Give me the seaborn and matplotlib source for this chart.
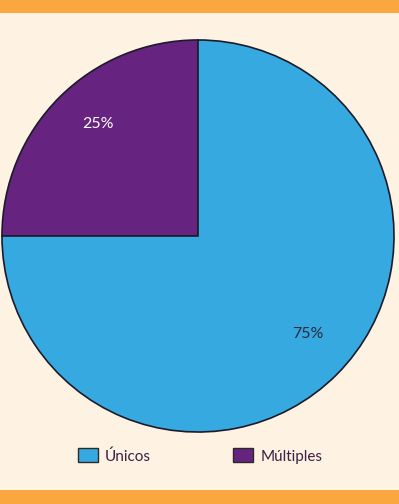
import matplotlib
matplotlib.use("Agg")
import matplotlib.pyplot as plt
from matplotlib.patches import Patch, Rectangle
import seaborn as sns

# data
labels = ["Múltiples", "Únicos"]
values = [25, 75]
legend_order = ["Únicos", "Múltiples"]

sns.set_theme(style="white")
plt.rcParams["font.family"] = ["Lato", "DejaVu Sans"]

colors = {"Únicos": "#36A9E1", "Múltiples": "#66237F"}
bg = "#FEF2E3"
orange = "#F9A73E"

fig = plt.figure(figsize=(3.99, 5.04), dpi=100, facecolor=bg)

# orange bands top and bottom
fig.patches.append(Rectangle((0, 1 - 13 / 504), 1, 13 / 504, transform=fig.transFigure,
                             facecolor=orange, edgecolor="none", zorder=0))
fig.patches.append(Rectangle((0, 0), 1, 14 / 504, transform=fig.transFigure,
                             facecolor=orange, edgecolor="none", zorder=0))

ax = fig.add_axes([1 / 399, 71 / 504, 394 / 399, 394 / 504])
ax.set_facecolor(bg)
wedges, texts, autotexts = ax.pie(
    values,
    colors=[colors[l] for l in labels],
    startangle=90,
    counterclock=True,
    autopct="%d%%",
    pctdistance=0.76,
    wedgeprops=dict(edgecolor="#1b1b2b", linewidth=1.2),
    textprops=dict(fontsize=11.5),
)
autotexts[0].set_color("white")
autotexts[1].set_color("#2a2a3a")
# nudge labels slightly up/right like the original
for t in autotexts:
    x, y = t.get_position()
    t.set_position((x + 0.025, y + 0.035))
ax.set_xlim(-1.005, 1.005)
ax.set_ylim(-1.005, 1.005)
ax.set_aspect("equal")
ax.axis("off")

handles = [Patch(facecolor=colors[l], edgecolor="#2a2a2a", linewidth=1.0) for l in legend_order]
leg = fig.legend(handles, legend_order, loc="center", bbox_to_anchor=(0.501, 48 / 504),
                 ncol=2, frameon=False, fontsize=11, handlelength=1.35, handleheight=1.0,
                 handletextpad=0.45, columnspacing=5.35)
for t in leg.get_texts():
    t.set_color("#3b1f45")

fig.savefig("out.png", dpi=100, facecolor=bg)
